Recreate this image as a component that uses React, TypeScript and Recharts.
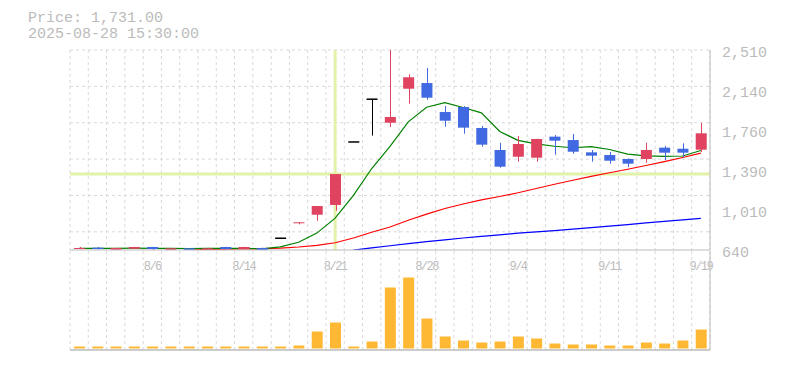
import { ComposedChart, Bar, Line, XAxis, YAxis, CartesianGrid, ReferenceLine } from "recharts";

const dates = [
  "7/31", "8/1", "8/4", "8/5", "8/6", "8/7", "8/8", "8/12", "8/13", "8/14", "8/15",
  "8/18", "8/19", "8/20", "8/21", "8/22", "8/25", "8/26", "8/27", "8/28", "8/29",
  "9/1", "9/2", "9/3", "9/4", "9/5", "9/8", "9/9", "9/10", "9/11", "9/12",
  "9/16", "9/17", "9/18", "9/19",
];
const opens = [649, 662, 642, 652, 668, 641, 656, 647, 668, 649, 659, 750, 897, 970, 1061, 1650, 2050, 1830, 2148, 2201, 1930, 1977, 1781, 1575, 1512, 1503, 1700, 1668, 1553, 1528, 1491, 1491, 1597, 1587, 1578];
const highs = [668, 668, 661, 670, 670, 657, 658, 660, 670, 670, 662, 750, 900, 1051, 1350, 1650, 2050, 2510, 2283, 2342, 1986, 1985, 1799, 1643, 1706, 1680, 1715, 1725, 1575, 1556, 1495, 1643, 1612, 1637, 1827];
const lows = [649, 645, 640, 650, 641, 640, 640, 645, 645, 647, 640, 750, 880, 914, 1007, 1650, 1710, 1790, 2008, 2045, 1793, 1727, 1606, 1410, 1466, 1466, 1531, 1540, 1466, 1447, 1416, 1456, 1481, 1507, 1556];
const closes = [659, 649, 659, 668, 649, 656, 640, 656, 649, 668, 640, 750, 899, 1051, 1350, 1650, 2050, 1884, 2255, 2064, 1849, 1784, 1625, 1419, 1631, 1678, 1662, 1559, 1522, 1475, 1447, 1575, 1550, 1550, 1731];
const ma5 = [655, 656, 655, 657, 656, 655, 654, 655, 656, 655, 651, 670, 712, 798, 938, 1150, 1402, 1610, 1838, 1975, 2018, 1972, 1922, 1748, 1665, 1632, 1610, 1596, 1607, 1580, 1536, 1520, 1515, 1519, 1570];
const ma25 = [null, null, null, null, null, null, 638, 645, 648, 650, 652, 658, 668, 683, 708, 752, 806, 855, 918, 975, 1028, 1070, 1108, 1140, 1175, 1215, 1255, 1292, 1328, 1362, 1395, 1430, 1466, 1505, 1545];
const ma75 = [null, null, null, null, null, null, null, null, null, null, null, null, null, null, null, 638, 660, 680, 700, 718, 735, 752, 767, 782, 798, 810, 822, 836, 850, 864, 878, 893, 908, 922, 936];
// volume, thousand shares
const volumes = [20, 20, 20, 20, 20, 20, 20, 20, 20, 20, 20, 20, 30, 170, 260, 20, 70, 610, 710, 300, 120, 80, 60, 70, 120, 100, 50, 40, 40, 30, 30, 60, 50, 80, 190];

const dateTicks = ["8/6", "8/14", "8/21", "8/28", "9/4", "9/11", "9/19"];
const priceTicks = [640, 1010, 1390, 1760, 2140, 2510];
const gridValues = [640, 810, 980, 1150, 1320, 1490, 1660, 1830, 2000, 2170, 2340, 2510];
const crossDate = "8/21";
const crossPrice = 1350;
const headerPrice = "Price: 1,731.00";
const headerTime = "2025-08-28 15:30:00";

const UP = "#e0435f";
const DOWN = "#4169e1";
const FLAT = "#000000";
const TEXT = "#bbbbbb";
const GRID = "#d9d9d9";
const MONO = "'Liberation Mono', 'Courier New', monospace";

const rows = dates.map((date, i) => ({
  date,
  open: opens[i],
  high: highs[i],
  low: lows[i],
  close: closes[i],
  range: [lows[i], highs[i]],
  ma5: ma5[i],
  ma25: ma25[i],
  ma75: ma75[i],
  vol: volumes[i],
}));

const slotLines = ({ offset }: any) =>
  Array.from({ length: dates.length + 1 }, (_, i) => offset.left + (i * offset.width) / dates.length);

const Candle = (props: any) => {
  const { x, y, width, height, payload } = props;
  const { open, close, high, low } = payload;
  const top = Math.min(y, y + height);
  const span = Math.abs(height);
  const toY = (v: number) => (high === low ? top : top + ((high - v) / (high - low)) * span);
  const cx = Math.round(x + width / 2) + 0.5;
  const color = close > open ? UP : close < open ? DOWN : FLAT;
  const bodyTop = toY(Math.max(open, close));
  const bodyBottom = toY(Math.min(open, close));
  return (
    <g>
      {high !== low && (
        <line x1={cx} x2={cx} y1={toY(high)} y2={toY(low)} stroke={color} strokeWidth={1} />
      )}
      {open === close ? (
        <line x1={x} x2={x + width} y1={bodyTop} y2={bodyTop} stroke={color} strokeWidth={1.5} />
      ) : (
        <rect x={x} y={bodyTop} width={width} height={Math.max(1, bodyBottom - bodyTop)} fill={color} />
      )}
    </g>
  );
};

const DateTick = ({ x, y, payload }: any) => (
  <text x={x} y={y + 18} textAnchor="middle" fill={TEXT} fontSize={12} fontFamily={MONO} letterSpacing={-1.5}>
    {payload.value}
  </text>
);

const PriceTick = ({ x, y, payload }: any) => (
  <text x={x + 10} y={y + 7} textAnchor="start" fill={TEXT} fontSize={15} fontFamily={MONO}>
    {payload.value.toLocaleString("en-US")}
  </text>
);

const headerStyle = {
  position: "absolute" as const,
  left: 28,
  fontFamily: MONO,
  fontSize: 15,
  lineHeight: "15px",
  height: 15,
  color: TEXT,
  whiteSpace: "pre" as const,
};

export default function App() {
  return (
    <div style={{ position: "absolute", left: 0, top: 0, width: 785, height: 370, background: "#fff" }}>
      <div style={{ ...headerStyle, top: 11 }}>{headerPrice}</div>
      <div style={{ ...headerStyle, top: 27 }}>{headerTime}</div>

      <div style={{ position: "absolute", left: 0, top: 0 }}>
        <ComposedChart width={785} height={282} data={rows} margin={{ top: 50, right: 0, left: 70, bottom: 12 }}>
          <CartesianGrid stroke={GRID} strokeDasharray="3 3" horizontalValues={gridValues} verticalCoordinatesGenerator={slotLines} />
          <XAxis dataKey="date" ticks={dateTicks} interval={0} tickLine={false} tickSize={0} height={20} axisLine={{ stroke: TEXT }} tick={<DateTick />} />
          <YAxis orientation="right" type="number" domain={[640, 2510]} allowDataOverflow ticks={priceTicks} width={75} tickLine={false} tickSize={0} axisLine={{ stroke: TEXT }} tick={<PriceTick />} />
          <ReferenceLine x={crossDate} stroke="#e2f2a8" strokeWidth={3} zIndex={-50} />
          <ReferenceLine y={crossPrice} stroke="#e2f2a8" strokeWidth={3} zIndex={-50} />
          <Line dataKey="ma75" stroke="#0000ff" strokeWidth={1.2} dot={false} isAnimationActive={false} connectNulls={false} />
          <Line dataKey="ma25" stroke="#ff0000" strokeWidth={1.2} dot={false} isAnimationActive={false} connectNulls={false} />
          <Line dataKey="ma5" stroke="#008000" strokeWidth={1.2} dot={false} isAnimationActive={false} />
          <Bar dataKey="range" barSize={11} shape={<Candle />} isAnimationActive={false} zIndex={450} />
        </ComposedChart>
      </div>

      <div style={{ position: "absolute", left: 0, top: 0 }}>
        <ComposedChart width={785} height={352} data={rows} margin={{ top: 251, right: 0, left: 70, bottom: 0 }}>
          <CartesianGrid stroke={GRID} strokeDasharray="3 3" horizontal={false} verticalCoordinatesGenerator={slotLines} />
          <XAxis dataKey="date" tick={false} tickLine={false} height={2} axisLine={{ stroke: TEXT, strokeWidth: 1.5 }} />
          <YAxis orientation="right" domain={[-15, 975]} allowDataOverflow width={75} tick={false} tickLine={false} axisLine={{ stroke: TEXT }} />
          <Bar dataKey="vol" barSize={11} fill="#ffb833" isAnimationActive={false} />
        </ComposedChart>
      </div>
    </div>
  );
}
